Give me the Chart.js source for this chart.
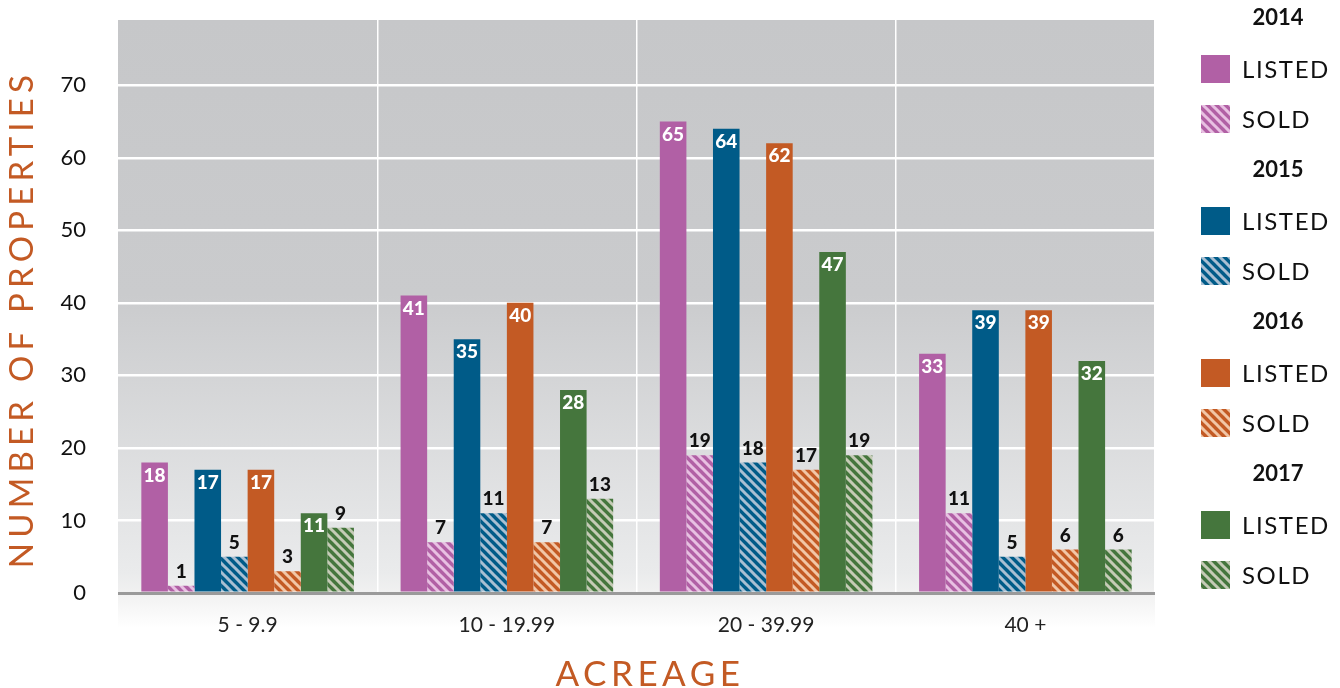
<!DOCTYPE html>
<html>
<head>
<meta charset="utf-8">
<script src="https://cdn.jsdelivr.net/npm/chart.js@4.4.1/dist/chart.umd.min.js"></script>
<style>
    html, body { margin: 0; padding: 0; background: #fff; }
    #wrap { width: 1340px; height: 688px; }
</style>
</head>
<body>
<div id="wrap"><canvas id="acreageChart" width="1340" height="688"></canvas></div>
<script>
// Data
const categories = ['5 - 9.9', '10 - 19.99', '20 - 39.99', '40 +'];
const years = ['2014', '2015', '2016', '2017'];
const listed2014 = [18, 41, 65, 33];
const sold2014 = [1, 7, 19, 11];
const listed2015 = [17, 35, 64, 39];
const sold2015 = [5, 11, 18, 5];
const listed2016 = [17, 40, 62, 39];
const sold2016 = [3, 7, 17, 6];
const listed2017 = [11, 28, 47, 32];
const sold2017 = [9, 13, 19, 6];
const yTicks = [0, 10, 20, 30, 40, 50, 60, 70];

// Colours per year: solid bar colour and light stripe colour for the hatched "sold" bars
const yearColors = {
    "2014": { base: '#b160a5', stripe: '#e8c0e2' },
    "2015": { base: '#005b88', stripe: '#a9bfd2' },
    "2016": { base: '#c35a24', stripe: '#f1c6a6' },
    "2017": { base: '#45763d', stripe: '#c5cbb6' },
};
const orange = '#c35a24';

function hatch(base, stripe) {
    const size = 9;
    const c = document.createElement('canvas');
    c.width = size; c.height = size;
    const g = c.getContext('2d');
    g.fillStyle = base;
    g.fillRect(0, 0, size, size);
    g.strokeStyle = stripe;
    g.lineWidth = 3;
    g.beginPath();
    g.moveTo(-2, -2); g.lineTo(size + 2, size + 2);
    g.moveTo(-2 - size, -2); g.lineTo(size + 2 - size, size + 2);
    g.moveTo(-2 + size, -2); g.lineTo(size + 2 + size, size + 2);
    g.stroke();
    return g.createPattern(c, 'repeat');
}

const listedData = [listed2014, listed2015, listed2016, listed2017];
const soldData = [sold2014, sold2015, sold2016, sold2017];

const datasets = [];
years.forEach((y, i) => {
    const col = yearColors[y];
    datasets.push({
        label: y + ' LISTED',
        kind: 'listed',
        year: y,
        data: listedData[i],
        backgroundColor: col.base,
        categoryPercentage: 0.82,
        barPercentage: 1.0,
    });
    datasets.push({
        label: y + ' SOLD',
        kind: 'sold',
        year: y,
        data: soldData[i],
        backgroundColor: hatch(col.base, col.stripe),
        categoryPercentage: 0.82,
        barPercentage: 1.0,
    });
});

// gray plot background fading to white at the bottom
const backgroundPlugin = {
    id: 'plotBackground',
    beforeDraw(chart) {
        const { ctx, chartArea } = chart;
        const extra = 35;
        const h = chartArea.bottom - chartArea.top + extra;
        const grad = ctx.createLinearGradient(0, chartArea.top, 0, chartArea.bottom + extra);
        grad.addColorStop(0, '#c6c7c9');
        grad.addColorStop(0.45, '#cacbcd');
        grad.addColorStop((chartArea.bottom - chartArea.top - 20) / h, '#eaebec');
        grad.addColorStop((chartArea.bottom - chartArea.top) / h, '#f1f1f1');
        grad.addColorStop(1, '#ffffff');
        ctx.save();
        ctx.fillStyle = grad;
        ctx.fillRect(chartArea.left, chartArea.top, chartArea.right - chartArea.left, h);
        ctx.restore();
    }
};

// value labels on the bars
const valueLabelPlugin = {
    id: 'valueLabels',
    afterDatasetsDraw(chart) {
        const ctx = chart.ctx;
        ctx.save();
        ctx.font = '900 19px Lato';
        ctx.textAlign = 'center';
        ctx.textBaseline = 'middle';
        chart.data.datasets.forEach((ds, i) => {
            const meta = chart.getDatasetMeta(i);
            meta.data.forEach((bar, j) => {
                const v = ds.data[j];
                if (ds.kind === 'listed') {
                    ctx.fillStyle = '#ffffff';
                    ctx.fillText(v, bar.x, bar.y + 13);
                } else {
                    ctx.fillStyle = '#111111';
                    ctx.fillText(v, bar.x, bar.y - 14);
                }
            });
        });
        ctx.restore();
    }
};

// axis titles (letter spaced) and the year grouped legend
const titleLegendPlugin = {
    id: 'titlesAndLegend',
    afterDraw(chart) {
        const ctx = chart.ctx;
        ctx.save();
        ctx.fillStyle = orange;
        ctx.textAlign = 'center';
        ctx.textBaseline = 'middle';
        ctx.letterSpacing = '4.5px';
        ctx.font = '35px Lato';
        ctx.fillText('ACREAGE', 650, 675);
        ctx.save();
        ctx.translate(22, 319);
        ctx.rotate(-Math.PI / 2);
        ctx.letterSpacing = '5.2px';
        ctx.font = '33px Lato';
        ctx.fillText('NUMBER OF PROPERTIES', 0, 0);
        ctx.restore();

        // legend
        const ds = chart.data.datasets;
        years.forEach((y, i) => {
            const base = 18 + i * 152;
            ctx.letterSpacing = '0px';
            ctx.fillStyle = '#111111';
            ctx.textAlign = 'center';
            ctx.font = 'bold 22px Lato';
            ctx.fillText(y, 1278, base);

            const rows = [
                { set: ds[i * 2], cy: base + 51, text: 'LISTED' },
                { set: ds[i * 2 + 1], cy: base + 101, text: 'SOLD' },
            ];
            rows.forEach(r => {
                ctx.fillStyle = r.set.backgroundColor;
                ctx.fillRect(1201, r.cy - 14, 29, 28);
                ctx.fillStyle = '#111111';
                ctx.textAlign = 'left';
                ctx.letterSpacing = '1.6px';
                ctx.font = '24px Lato';
                ctx.fillText(r.text, 1242, r.cy + 1);
            });
        });
        ctx.restore();
    }
};

const options = {
    responsive: false,
    maintainAspectRatio: false,
    animation: false,
    layout: {
        padding: { left: 0, right: 185, top: 20, bottom: 0 }
    },
    plugins: {
        legend: { display: false },
        tooltip: { enabled: false },
    },
    scales: {
        x: {
            offset: true,
            border: { display: false },
            grid: {
                offset: true,
                drawTicks: false,
                lineWidth: 1.5,
                color: (c) => (c.index === 0 || c.index >= categories.length) ? 'rgba(0,0,0,0)' : '#ffffff',
            },
            ticks: {
                color: '#222222',
                font: { family: 'Lato', size: 21 },
                padding: 20,
            },
            afterFit: (s) => {
                s.height = 95;
                s.paddingLeft = 0; s.paddingRight = 0;
            },
        },
        y: {
            min: 0,
            max: 79,
            border: { display: false },
            afterBuildTicks: (s) => { s.ticks = yTicks.map(v => ({ value: v })); },
            grid: {
                drawTicks: false,
                color: (c) => c.tick && c.tick.value === 0 ? '#9a9a9a' : '#ffffff',
                lineWidth: (c) => c.tick && c.tick.value === 0 ? 3 : 2.5,
            },
            ticks: {
                color: '#111111',
                font: { family: 'Lato', size: 22 },
                padding: 32,
            },
            afterFit: (s) => {
                s.width = 118;
                s.paddingTop = 0; s.paddingBottom = 0;
            },
        },
    },
};

const ctx = document.getElementById('acreageChart').getContext('2d');
const myChart = new Chart(ctx, {
    type: 'bar',
    data: { labels: categories, datasets: datasets },
    options: options,
    plugins: [backgroundPlugin, valueLabelPlugin, titleLegendPlugin],
});
</script>
</body>
</html>
